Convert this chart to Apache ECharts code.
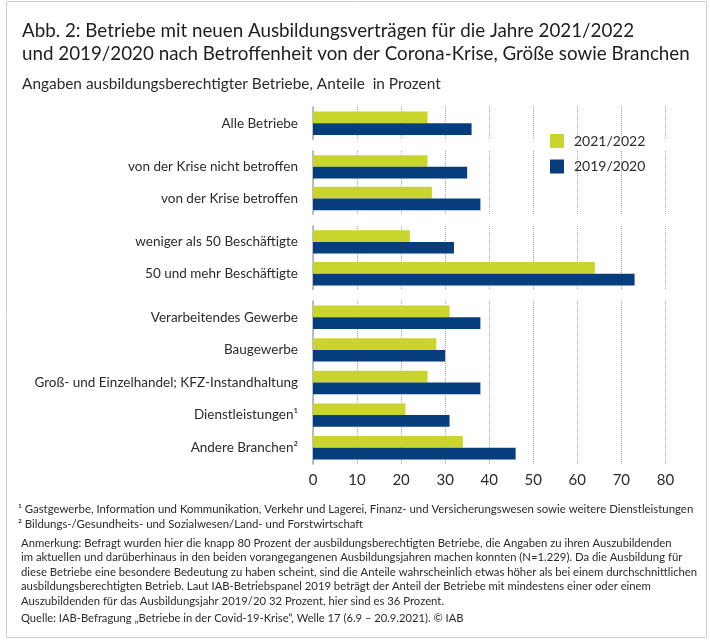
<!DOCTYPE html>
<html>
<head>
<meta charset="utf-8">
<script src="https://cdn.jsdelivr.net/npm/echarts@6/dist/echarts.min.js"></script>
<style>
  html, body { margin: 0; padding: 0; background: #fff; }
  #chart { width: 710px; height: 640px; }
</style>
</head>
<body>
<div id="chart"></div>
<script>
// Kategorien (von oben nach unten) und Gruppengrößen
const categories = [
  'Alle Betriebe',
  'von der Krise nicht betroffen',
  'von der Krise betroffen',
  'weniger als 50 Beschäftigte',
  '50 und mehr Beschäftigte',
  'Verarbeitendes Gewerbe',
  'Baugewerbe',
  'Groß- und Einzelhandel; KFZ-Instandhaltung',
  'Dienstleistungen¹',
  'Andere Branchen²'
]
const groupSizes = [1, 2, 2, 5]

const seriesNames = ['2021/2022', '2019/2020']
const values2122 = [26, 26, 27, 22, 64, 31, 28, 26, 21, 34]
const values1920 = [36, 35, 38, 32, 73, 38, 30, 38, 31, 46]

const xMin = 0
const xMax = 80
const xStep = 10

const footnotes = [
  '¹ Gastgewerbe, Information und Kommunikation, Verkehr und Lagerei, Finanz- und Versicherungswesen sowie weitere Dienstleistungen',
  '² Bildungs-/Gesundheits- und Sozialwesen/Land- und Forstwirtschaft'
]
const noteLines = [
  'Anmerkung: Befragt wurden hier die knapp 80 Prozent der ausbildungsberechtigten Betriebe, die Angaben zu ihren Auszubildenden',
  'im aktuellen und darüberhinaus in den beiden vorangegangenen Ausbildungsjahren machen konnten (N=1.229). Da die Ausbildung für',
  'diese Betriebe eine besondere Bedeutung zu haben scheint, sind die Anteile wahrscheinlich etwas höher als bei einem durchschnittlichen',
  'ausbildungsberechtigten Betrieb. Laut IAB-Betriebspanel 2019 beträgt der Anteil der Betriebe mit mindestens einer oder einem',
  'Auszubildenden für das Ausbildungsjahr 2019/20 32 Prozent, hier sind es 36 Prozent.'
]
const sourceLine = 'Quelle: IAB-Befragung „Betriebe in der Covid-19-Krise“, Welle 17 (6.9 – 20.9.2021). © IAB'

const FONT = 'Lato, "Open Sans", sans-serif'
const GREEN = '#c9d52c'
const BLUE = '#063d7d'
const TEXT = '#2b2b2b'

// Layout der vier Gruppen (obere Kante, Zeilenhöhe)
const gridTops = [107, 151, 226, 301]
const rowHeight = [32.5, 31.7, 31.8, 32.6]

const chart = echarts.init(document.getElementById('chart'), null, { renderer: 'canvas' })

const grids = [], xAxes = [], yAxes = [], series = []
let start = 0
groupSizes.forEach((n, g) => {
  const last = g === groupSizes.length - 1
  grids.push({ left: 313, width: 352.4, top: gridTops[g], height: n * rowHeight[g] })
  xAxes.push({
    type: 'value', gridIndex: g, min: xMin, max: xMax, interval: xStep,
    axisLine: { show: false }, axisTick: { show: false },
    axisLabel: { show: last, fontFamily: FONT, fontSize: 15, color: TEXT, margin: 9 },
    splitLine: { lineStyle: { type: 'dotted', color: '#a8a8a8', width: 1 } }
  })
  yAxes.push({
    type: 'category', gridIndex: g, inverse: true,
    data: categories.slice(start, start + n),
    axisLine: { show: true, lineStyle: { color: '#a4adba', width: 1.5 } },
    axisTick: { show: false },
    axisLabel: { fontFamily: FONT, fontSize: 13.5, color: TEXT, margin: 15 }
  })
  const vals = [values2122, values1920]
  seriesNames.forEach((name, s) => {
    series.push({
      name, type: 'bar', xAxisIndex: g, yAxisIndex: g,
      barWidth: 11.7, barGap: '0%',
      itemStyle: { color: s === 0 ? GREEN : BLUE },
      data: vals[s].slice(start, start + n)
    })
  })
  start += n
})

const textEls = []
footnotes.forEach((t, i) => {
  textEls.push({ type: 'text', left: 18, top: 504 + i * 14.5,
    style: { text: t, font: '11.4px ' + FONT, fill: TEXT } })
})
noteLines.forEach((t, i) => {
  textEls.push({ type: 'text', left: 21, top: 537.5 + i * 14.6,
    style: { text: t, font: '11.3px ' + FONT, fill: TEXT } })
})
textEls.push({ type: 'text', left: 21, top: 612.5,
  style: { text: sourceLine, font: '11.2px ' + FONT, fill: TEXT } })

chart.setOption({
  animation: false,
  backgroundColor: '#fff',
  title: [
    {
      text: 'Abb. 2: Betriebe mit neuen Ausbildungsverträgen für die Jahre 2021/2022\nund 2019/2020 nach Betroffenheit von der Corona-Krise, Größe sowie Branchen',
      left: 17, top: 14,
      textStyle: { fontFamily: FONT, fontSize: 18.8, fontWeight: 'normal', color: '#1e1e1e', lineHeight: 23 }
    },
    {
      text: 'Angaben ausbildungsberechtigter Betriebe, Anteile  in Prozent',
      left: 17, top: 70,
      textStyle: { fontFamily: FONT, fontSize: 15.4, fontWeight: 'normal', color: TEXT, lineHeight: 18 }
    }
  ],
  legend: {
    data: seriesNames, orient: 'vertical', left: 545, top: 129,
    icon: 'rect', itemWidth: 14, itemHeight: 14, itemGap: 11.5,
    textStyle: { fontFamily: FONT, fontSize: 14, color: TEXT, padding: [0, 0, 0, 5] }
  },
  grid: grids,
  xAxis: xAxes,
  yAxis: yAxes,
  series,
  graphic: [
    { type: 'rect', shape: { x: 6.5, y: 1.5, width: 700, height: 636 },
      style: { fill: 'none', stroke: '#cfcfcf', lineWidth: 1 }, silent: true },
    ...textEls
  ]
})
</script>
</body>
</html>
